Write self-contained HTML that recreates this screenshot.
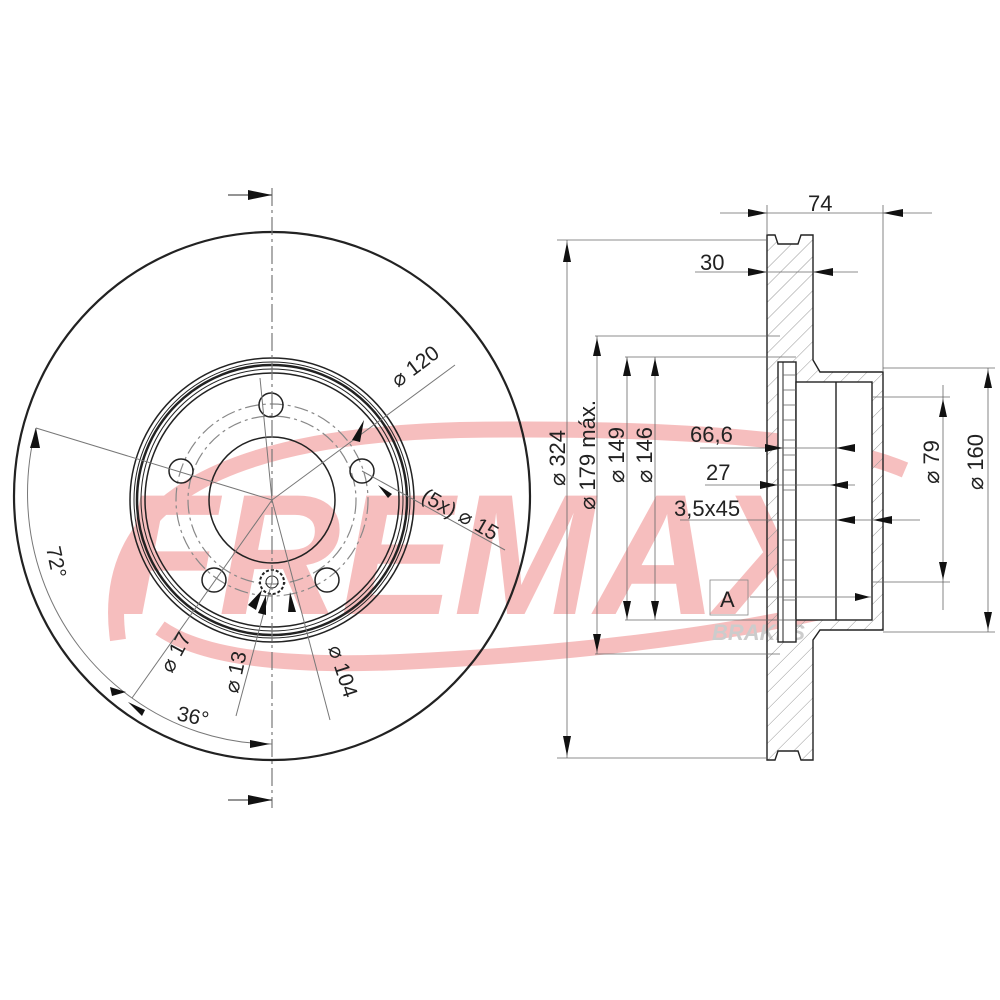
<!DOCTYPE html>
<html><head><meta charset="utf-8"><style>
html,body{margin:0;padding:0;background:#fff;}
svg{display:block;}
text{font-family:"Liberation Sans",sans-serif;fill:#222;}
</style></head><body>
<svg width="1000" height="1000" viewBox="0 0 1000 1000" xmlns="http://www.w3.org/2000/svg">
<defs>
<pattern id="hatch" patternUnits="userSpaceOnUse" width="12" height="12" patternTransform="rotate(45)">
<line x1="0" y1="0" x2="0" y2="12" stroke="#999" stroke-width="1"/>
</pattern>
</defs>
<!-- watermark -->
<g opacity="0.5">
<path d="M118 640 Q 90 440 460 430 Q 800 425 905 470" fill="none" stroke="#ee7f7f" stroke-width="16"/>
<path d="M160 628 Q 220 670 400 662 Q 650 650 820 612" fill="none" stroke="#ee7f7f" stroke-width="16"/>
<text x="115" y="614" font-size="172" font-weight="bold" font-style="italic" textLength="715" lengthAdjust="spacingAndGlyphs" style="fill:#ee7f7f">FREMAX</text>
</g>
<text x="712" y="640" font-size="22" font-weight="bold" font-style="italic" style="fill:#ccc">BRAKES</text>

<g fill="none" stroke="#222" stroke-width="1.2">
<!-- left view -->
<ellipse cx="272" cy="496" rx="258" ry="264" stroke-width="2.2"/>
<circle cx="272" cy="500" r="142" stroke-width="1.5"/>
<circle cx="272" cy="500" r="138" stroke-width="1"/>
<circle cx="272" cy="500" r="135" stroke-width="2.5"/>
<circle cx="272" cy="500" r="131" stroke-width="1"/>
<circle cx="272" cy="500" r="127" stroke-width="1.5"/>
<circle cx="272" cy="500" r="63" stroke-width="1.5"/>
<circle cx="272" cy="500" r="96" stroke="#888" stroke-dasharray="14 4 3 4"/>
<circle cx="272" cy="500" r="84" stroke="#888" stroke-dasharray="14 4 3 4"/>
<circle cx="271" cy="405" r="12" stroke-width="1.5"/>
<circle cx="181" cy="471" r="12" stroke-width="1.5"/>
<circle cx="362" cy="471" r="12" stroke-width="1.5"/>
<circle cx="214" cy="580" r="12" stroke-width="1.5"/>
<circle cx="327" cy="580" r="12" stroke-width="1.5"/>
<circle cx="272" cy="582" r="12" stroke-width="2" stroke-dasharray="3 2"/>
<circle cx="272" cy="582" r="6" stroke-width="1"/>
<!-- center line -->
<line x1="272" y1="188" x2="272" y2="808" stroke="#777" stroke-dasharray="18 4 3 4"/>
<line x1="228" y1="195" x2="272" y2="195" stroke="#555"/>
<line x1="228" y1="800" x2="272" y2="800" stroke="#555"/>
<!-- leader lines -->
<g stroke="#777" stroke-width="1">
<line x1="272" y1="500" x2="455" y2="365"/>
<line x1="36" y1="428" x2="272" y2="500"/>
<line x1="362" y1="471" x2="505" y2="550"/>
<line x1="272" y1="500" x2="132" y2="698"/>
<line x1="272" y1="500" x2="330" y2="720"/>
<line x1="272" y1="582" x2="236" y2="716"/>
<line x1="260" y1="378" x2="272" y2="500"/>
<path d="M36 428 A245 250 0 0 0 132 698"/>
<path d="M132 698 A245 250 0 0 0 272 744"/>
</g>
</g>
<g fill="#111">
<polygon points="248,190 272,195 248,200"/>
<polygon points="248,795 272,800 248,805"/>
<polygon points="352,440 364,420 360,442"/>
<polygon points="378,485 392,494 388,498"/>
<polygon points="248,605 262,590 256,610"/>
<polygon points="258,613 266,595 266,615"/>
<polygon points="290,592 296,612 288,612"/>
<polygon points="30,448 36,428 40,448"/>
<polygon points="110,687 126,692 112,696"/>
<polygon points="128,702 145,710 142,716"/>
<polygon points="250,740 270,744 250,748"/>
</g>
<g font-size="21">
<text transform="translate(398,388) rotate(-37)">⌀ 120</text>
<text transform="translate(420,500) rotate(30)">(5x)</text>
<text transform="translate(457,520) rotate(30)">⌀ 15</text>
<text transform="translate(46,548) rotate(78)">72°</text>
<text transform="translate(176,720) rotate(12)">36°</text>
<text transform="translate(172,674) rotate(-62)">⌀ 17</text>
<text transform="translate(238,694) rotate(-78)">⌀ 13</text>
<text transform="translate(328,648) rotate(72)">⌀ 104</text>
</g>

<!-- right view -->
<g stroke="#222" stroke-width="1.4">
<path d="M767 235 L775 235 L778 244 L798 244 L801 235 L813 235 L813 360 L820 372 L883 372 L883 630 L820 630 L813 640 L813 760 L801 760 L798 751 L778 751 L775 760 L767 760 Z" fill="url(#hatch)"/>
<rect x="778" y="362" width="18" height="280" fill="#fff"/>
<rect x="796" y="382" width="76" height="238" fill="#fff"/>
<line x1="836" y1="382" x2="836" y2="620"/>
<line x1="783" y1="362" x2="783" y2="642" stroke-width="1"/>
<line x1="872" y1="430" x2="872" y2="575" stroke-width="1"/>
</g>
<g stroke="#666" stroke-width="0.8">
<line x1="783" y1="375" x2="796" y2="375"/><line x1="783" y1="390" x2="796" y2="390"/>
<line x1="783" y1="405" x2="796" y2="405"/><line x1="783" y1="420" x2="796" y2="420"/>
<line x1="783" y1="440" x2="796" y2="440"/><line x1="783" y1="455" x2="796" y2="455"/>
<line x1="783" y1="470" x2="796" y2="470"/><line x1="783" y1="490" x2="796" y2="490"/>
<line x1="783" y1="520" x2="796" y2="520"/><line x1="783" y1="540" x2="796" y2="540"/>
<line x1="783" y1="560" x2="796" y2="560"/><line x1="783" y1="580" x2="796" y2="580"/>
<line x1="783" y1="600" x2="796" y2="600"/><line x1="783" y1="620" x2="796" y2="620"/>
<!-- dims -->
<line x1="720" y1="213" x2="932" y2="213"/>
<line x1="767" y1="205" x2="767" y2="235"/>
<line x1="883" y1="205" x2="883" y2="372"/>
<line x1="695" y1="272" x2="858" y2="272"/>
<line x1="557" y1="240" x2="767" y2="240"/>
<line x1="557" y1="758" x2="767" y2="758"/>
<line x1="567" y1="240" x2="567" y2="758"/>
<line x1="595" y1="336" x2="780" y2="336"/>
<line x1="595" y1="654" x2="780" y2="654"/>
<line x1="597" y1="336" x2="597" y2="654"/>
<line x1="625" y1="357" x2="796" y2="357"/>
<line x1="625" y1="620" x2="796" y2="620"/>
<line x1="627" y1="357" x2="627" y2="620"/>
<line x1="655" y1="357" x2="655" y2="620"/>
<line x1="700" y1="448" x2="852" y2="448"/>
<line x1="705" y1="485" x2="855" y2="485"/>
<line x1="680" y1="520" x2="920" y2="520"/>
<line x1="750" y1="597" x2="872" y2="597"/>
<line x1="883" y1="368" x2="995" y2="368"/>
<line x1="883" y1="632" x2="995" y2="632"/>
<line x1="988" y1="368" x2="988" y2="632"/>
<line x1="872" y1="397" x2="950" y2="397"/>
<line x1="872" y1="582" x2="950" y2="582"/>
<line x1="943" y1="385" x2="943" y2="610"/>
<rect x="710" y="580" width="38" height="35" fill="none" stroke="#888"/>
</g>
<g fill="#111">
<polygon points="748,209 767,213 748,217"/>
<polygon points="903,209 883,213 903,217"/>
<polygon points="748,268 767,272 748,276"/>
<polygon points="833,268 813,272 833,276"/>
<polygon points="563,262 567,242 571,262"/>
<polygon points="563,736 567,756 571,736"/>
<polygon points="593,356 597,338 601,356"/>
<polygon points="593,634 597,652 601,634"/>
<polygon points="623,376 627,358 631,376"/>
<polygon points="623,601 627,619 631,601"/>
<polygon points="651,376 655,358 659,376"/>
<polygon points="651,601 655,619 659,601"/>
<polygon points="939,417 943,399 947,417"/>
<polygon points="939,562 943,580 947,562"/>
<polygon points="984,388 988,370 992,388"/>
<polygon points="984,612 988,630 992,612"/>
<polygon points="765,444 783,448 765,452"/>
<polygon points="855,444 836,448 855,452"/>
<polygon points="760,481 778,485 760,489"/>
<polygon points="848,481 830,485 848,489"/>
<polygon points="855,516 836,520 855,524"/>
<polygon points="892,516 873,520 892,524"/>
<polygon points="855,593 870,597 855,601"/>
</g>
<g font-size="22">
<text x="808" y="211">74</text>
<text x="700" y="270">30</text>
<text x="690" y="442">66,6</text>
<text x="706" y="480">27</text>
<text x="674" y="516">3,5x45</text>
<text x="720" y="607">A</text>
<g text-anchor="middle">
<text transform="translate(565,458) rotate(-90)">⌀ 324</text>
<text transform="translate(595,455) rotate(-90)">⌀ 179 máx.</text>
<text transform="translate(624,455) rotate(-90)">⌀ 149</text>
<text transform="translate(652,455) rotate(-90)">⌀ 146</text>
<text transform="translate(939,462) rotate(-90)">⌀ 79</text>
<text transform="translate(983,462) rotate(-90)">⌀ 160</text>
</g>
</g>
</svg>
</body></html>
